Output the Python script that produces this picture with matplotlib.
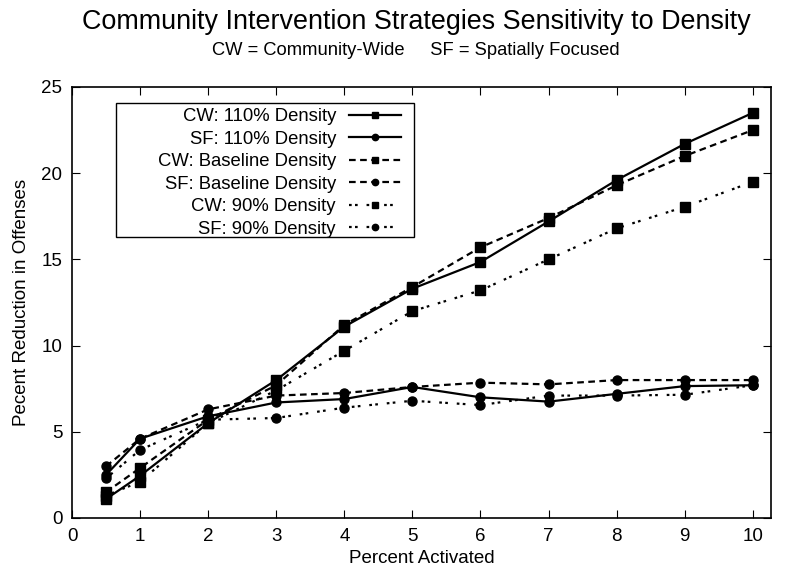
import matplotlib.pyplot as plt
from matplotlib.patches import Rectangle

plt.rcParams['font.family'] = ['Liberation Sans', 'DejaVu Sans']

activated = [0.5, 1, 2, 3, 4, 5, 6, 7, 8, 9, 10]

cw_110 = [1.1, 2.45, 5.5, 8.0, 11.1, 13.3, 14.85, 17.2, 19.6, 21.7, 23.5]
sf_110 = [2.5, 4.6, 5.9, 6.7, 6.9, 7.6, 7.0, 6.75, 7.2, 7.65, 7.7]
cw_base = [1.5, 2.9, 5.7, 7.7, 11.2, 13.4, 15.7, 17.4, 19.3, 21.0, 22.5]
sf_base = [3.0, 4.6, 6.3, 7.1, 7.25, 7.6, 7.85, 7.75, 8.0, 8.0, 8.0]
cw_90 = [1.3, 2.1, 5.5, 7.4, 9.7, 12.0, 13.2, 15.0, 16.8, 18.05, 19.5]
sf_90 = [2.3, 3.95, 5.7, 5.8, 6.4, 6.8, 6.55, 7.1, 7.1, 7.15, 7.7]

labels = ["CW: 110% Density", "SF: 110% Density", "CW: Baseline Density",
          "SF: Baseline Density", "CW: 90% Density", "SF: 90% Density"]

dash = (0, (3, 2))
dots = (0, (1.2, 1.5, 1.2, 4))

fig = plt.figure(figsize=(8, 5.83), dpi=100)
ax = fig.add_axes([0.09, 0.1115, 0.874, 0.7393])

series = [
    (cw_110, '-', 's'),
    (sf_110, '-', 'o'),
    (cw_base, dash, 's'),
    (sf_base, dash, 'o'),
    (cw_90, dots, 's'),
    (sf_90, dots, 'o'),
]
for (vals, ls, mk), lab in zip(series, labels):
    ax.plot(activated, vals, color='black', linestyle=ls, linewidth=1.6,
            marker=mk, markersize=7 if mk == 's' else 6.5, label=lab)

ax.set_xlim(0, 10.27)
ax.set_ylim(0, 25)
ax.set_xticks(range(0, 11))
ax.set_yticks([0, 5, 10, 15, 20, 25])
ax.tick_params(direction='in', top=True, right=True, labelsize=13.5, length=6, pad=7)
for s in ax.spines.values():
    s.set_linewidth(1.2)

ax.set_xlabel("Percent Activated", fontsize=13.5, labelpad=4)
ax.set_ylabel("Pecent Reduction in Offenses", fontsize=13.5, labelpad=8)

fig.text(0.52, 0.962, "Community Intervention Strategies Sensitivity to Density",
         ha='center', va='center', fontsize=19.4)
fig.text(0.52, 0.913, "CW = Community-Wide     SF = Spatially Focused",
         ha='center', va='center', fontsize=13.2)

# gnuplot-style key: right-aligned labels, wide box with room on the left
ax.legend(loc='upper right', bbox_to_anchor=(0.499, 0.998), markerfirst=False,
          fontsize=13.3, frameon=False, handlelength=2.8, labelspacing=0.3,
          borderpad=0.6, handletextpad=0.7, markerscale=0.7)
ax.add_patch(Rectangle((0.063, 0.652), 0.426, 0.311, transform=ax.transAxes,
                       fill=False, edgecolor='black', linewidth=1.0, zorder=5))

fig.savefig("out.png", dpi=100)
